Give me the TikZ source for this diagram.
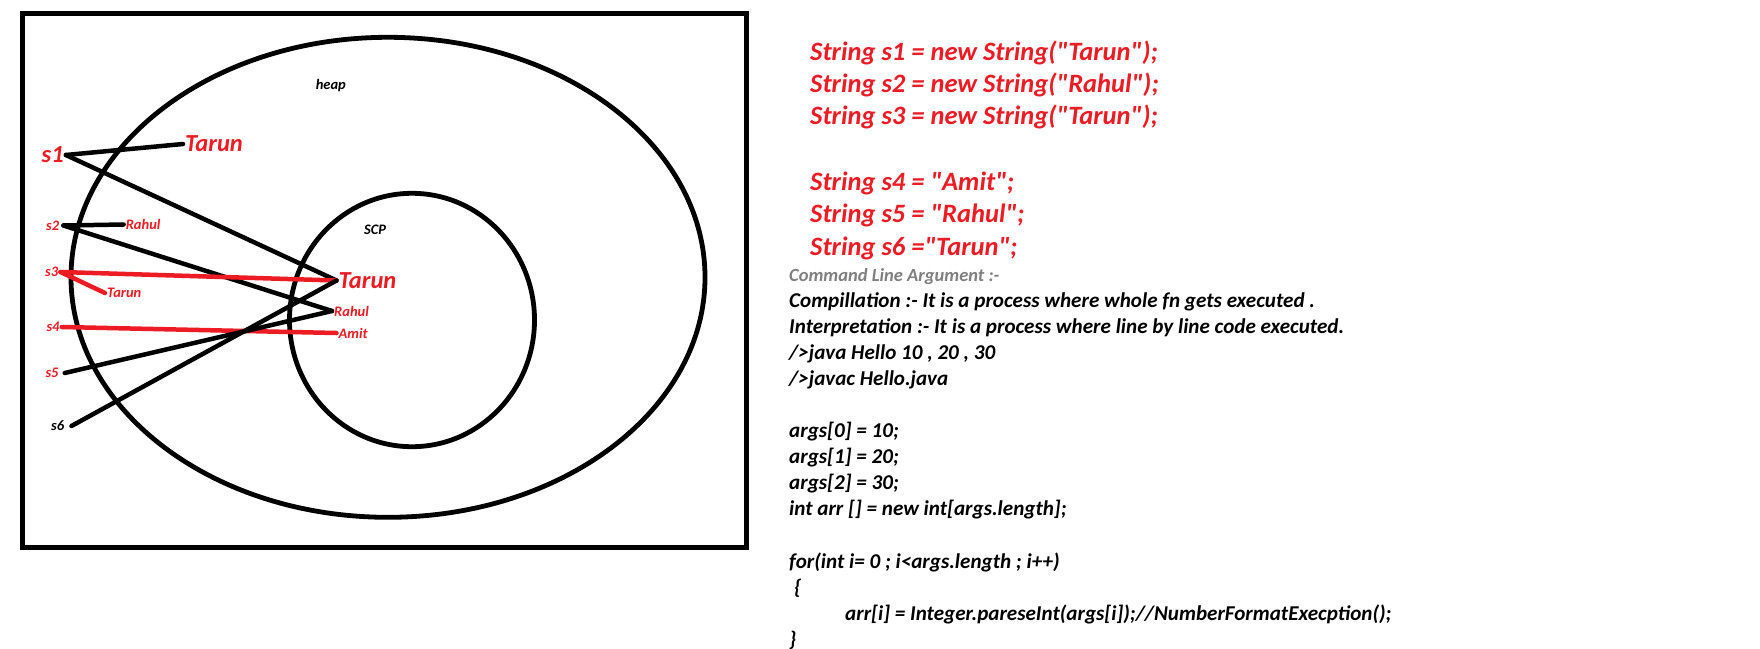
\documentclass[tikz,border=0pt]{standalone}
\usepackage{fontspec}
\setmainfont{Carlito}[Ligatures=TeXOff]
\definecolor{pred}{RGB}{237,28,36}
\definecolor{cgray}{RGB}{127,127,127}
\begin{document}
\begin{tikzpicture}[x=1pt,y=-1pt,
  frame/.style={line width=4.8pt},
  lbl/.style={font=\fontsize{14.5}{17}\selectfont\bfseries\itshape, text=pred, inner sep=2pt, anchor=west},
  biglbl/.style={font=\fontsize{24.5}{29}\selectfont\bfseries\itshape, text=pred, inner sep=2pt, anchor=west},
  blbl/.style={lbl, text=black},
  conn/.style={line width=4.5pt, line cap=round},
  redconn/.style={conn, draw=pred},
  redcode/.style={font=\fontsize{26.5}{32}\selectfont\bfseries\itshape, text=pred, inner sep=0pt, anchor=base west},
  graycode/.style={font=\fontsize{18.5}{22}\selectfont\bfseries\itshape, text=cgray, inner sep=0pt, anchor=base west},
  code/.style={font=\fontsize{21.1}{25}\selectfont\bfseries\itshape, text=black, inner sep=0pt, anchor=base west}]
\useasboundingbox (0,0) rectangle (1760,648);
\fill[white] (0,0) rectangle (1760,648);
% frame and memory areas
\draw[frame] (22.3,13.3) rectangle (746.3,547.3);
\draw[frame] (388,277.3) ellipse [x radius=317, y radius=240];
\draw[frame] (412,320) ellipse [x radius=122.5, y radius=126.7];
% labels
\node[blbl] (heap) at (313.6,86) {heap};
\node[blbl] (scp) at (362,229.4) {SCP};
\node[biglbl] (s1) at (39.4,155) {s1};
\node[biglbl] (t1) at (183,144) {Tarun};
\node[lbl] (s2) at (44,225.5) {s2};
\node[lbl] (r1) at (123.6,224.5) {Rahul};
\node[lbl] (s3) at (43,272) {s3};
\node[lbl] (t3) at (105,293) {Tarun};
\node[lbl] (s4) at (44.3,327) {s4};
\node[lbl] (s5) at (43.3,373) {s5};
\node[blbl] (s6) at (49,426) {s6};
\node[biglbl] (T) at (336.5,280.5) {Tarun};
\node[lbl] (R) at (332,311) {Rahul};
\node[lbl] (A) at (336.5,333) {Amit};
% references
\draw[conn] (s1.east) -- (t1.west);
\draw[conn] (s1.east) -- (T.west);
\draw[conn] ([xshift=2pt]s2.east) -- (r1.west);
\draw[conn] ([xshift=2pt]s2.east) -- (R.west);
\draw[redconn] (s3.east) -- (T.west);
\draw[redconn] (s3.east) -- (t3.west);
\draw[redconn] (s4.east) -- (A.west);
\draw[conn] ([xshift=4pt]s5.east) -- (R.west);
\draw[conn] ([xshift=5pt]s6.east) -- (T.west);
% code text
\node[redcode] (c1) at (810,60.5) {String s1 = new String("Tarun");};
\node[redcode] (c2) at (810,92.5) {String s2 = new String("Rahul");};
\node[redcode] (c3) at (810,124.5) {String s3 = new String("Tarun");};
\node[redcode] (c4) at (810,190) {String s4 = "Amit";};
\node[redcode] (c5) at (810,222) {String s5 = "Rahul";};
\node[redcode] (c6) at (810,255) {String s6 ="Tarun";};
\node[graycode] (cla) at (789,281) {Command Line Argument :-};
\node[code] (l1) at (789,307.5) {Compillation :- It is a process where whole fn gets executed .};
\node[code] (l2) at (789,333.5) {Interpretation :- It is a process where line by line code executed.};
\node[code] (l3) at (789,359.6) {/>java Hello 10 , 20 , 30};
\node[code] (l4) at (789,385.6) {/>javac Hello.java};
\node[code] (l5) at (789,437.7) {args[0] = 10;};
\node[code] (l6) at (789,463.8) {args[1] = 20;};
\node[code] (l7) at (789,489.8) {args[2] = 30;};
\node[code] (l8) at (789,515.9) {int arr [] = new int[args.length];};
\node[code] (l9) at (789,568) {for(int i= 0 ; i<args.length ; i++)};
\node[code] (l10) at (794,594) {\{};
\node[code] (l11) at (845,620) {arr[i] = Integer.pareseInt(args[i]);//NumberFormatExecption();};
\node[code] (l12) at (789,646) {\}};
\end{tikzpicture}
\end{document}
